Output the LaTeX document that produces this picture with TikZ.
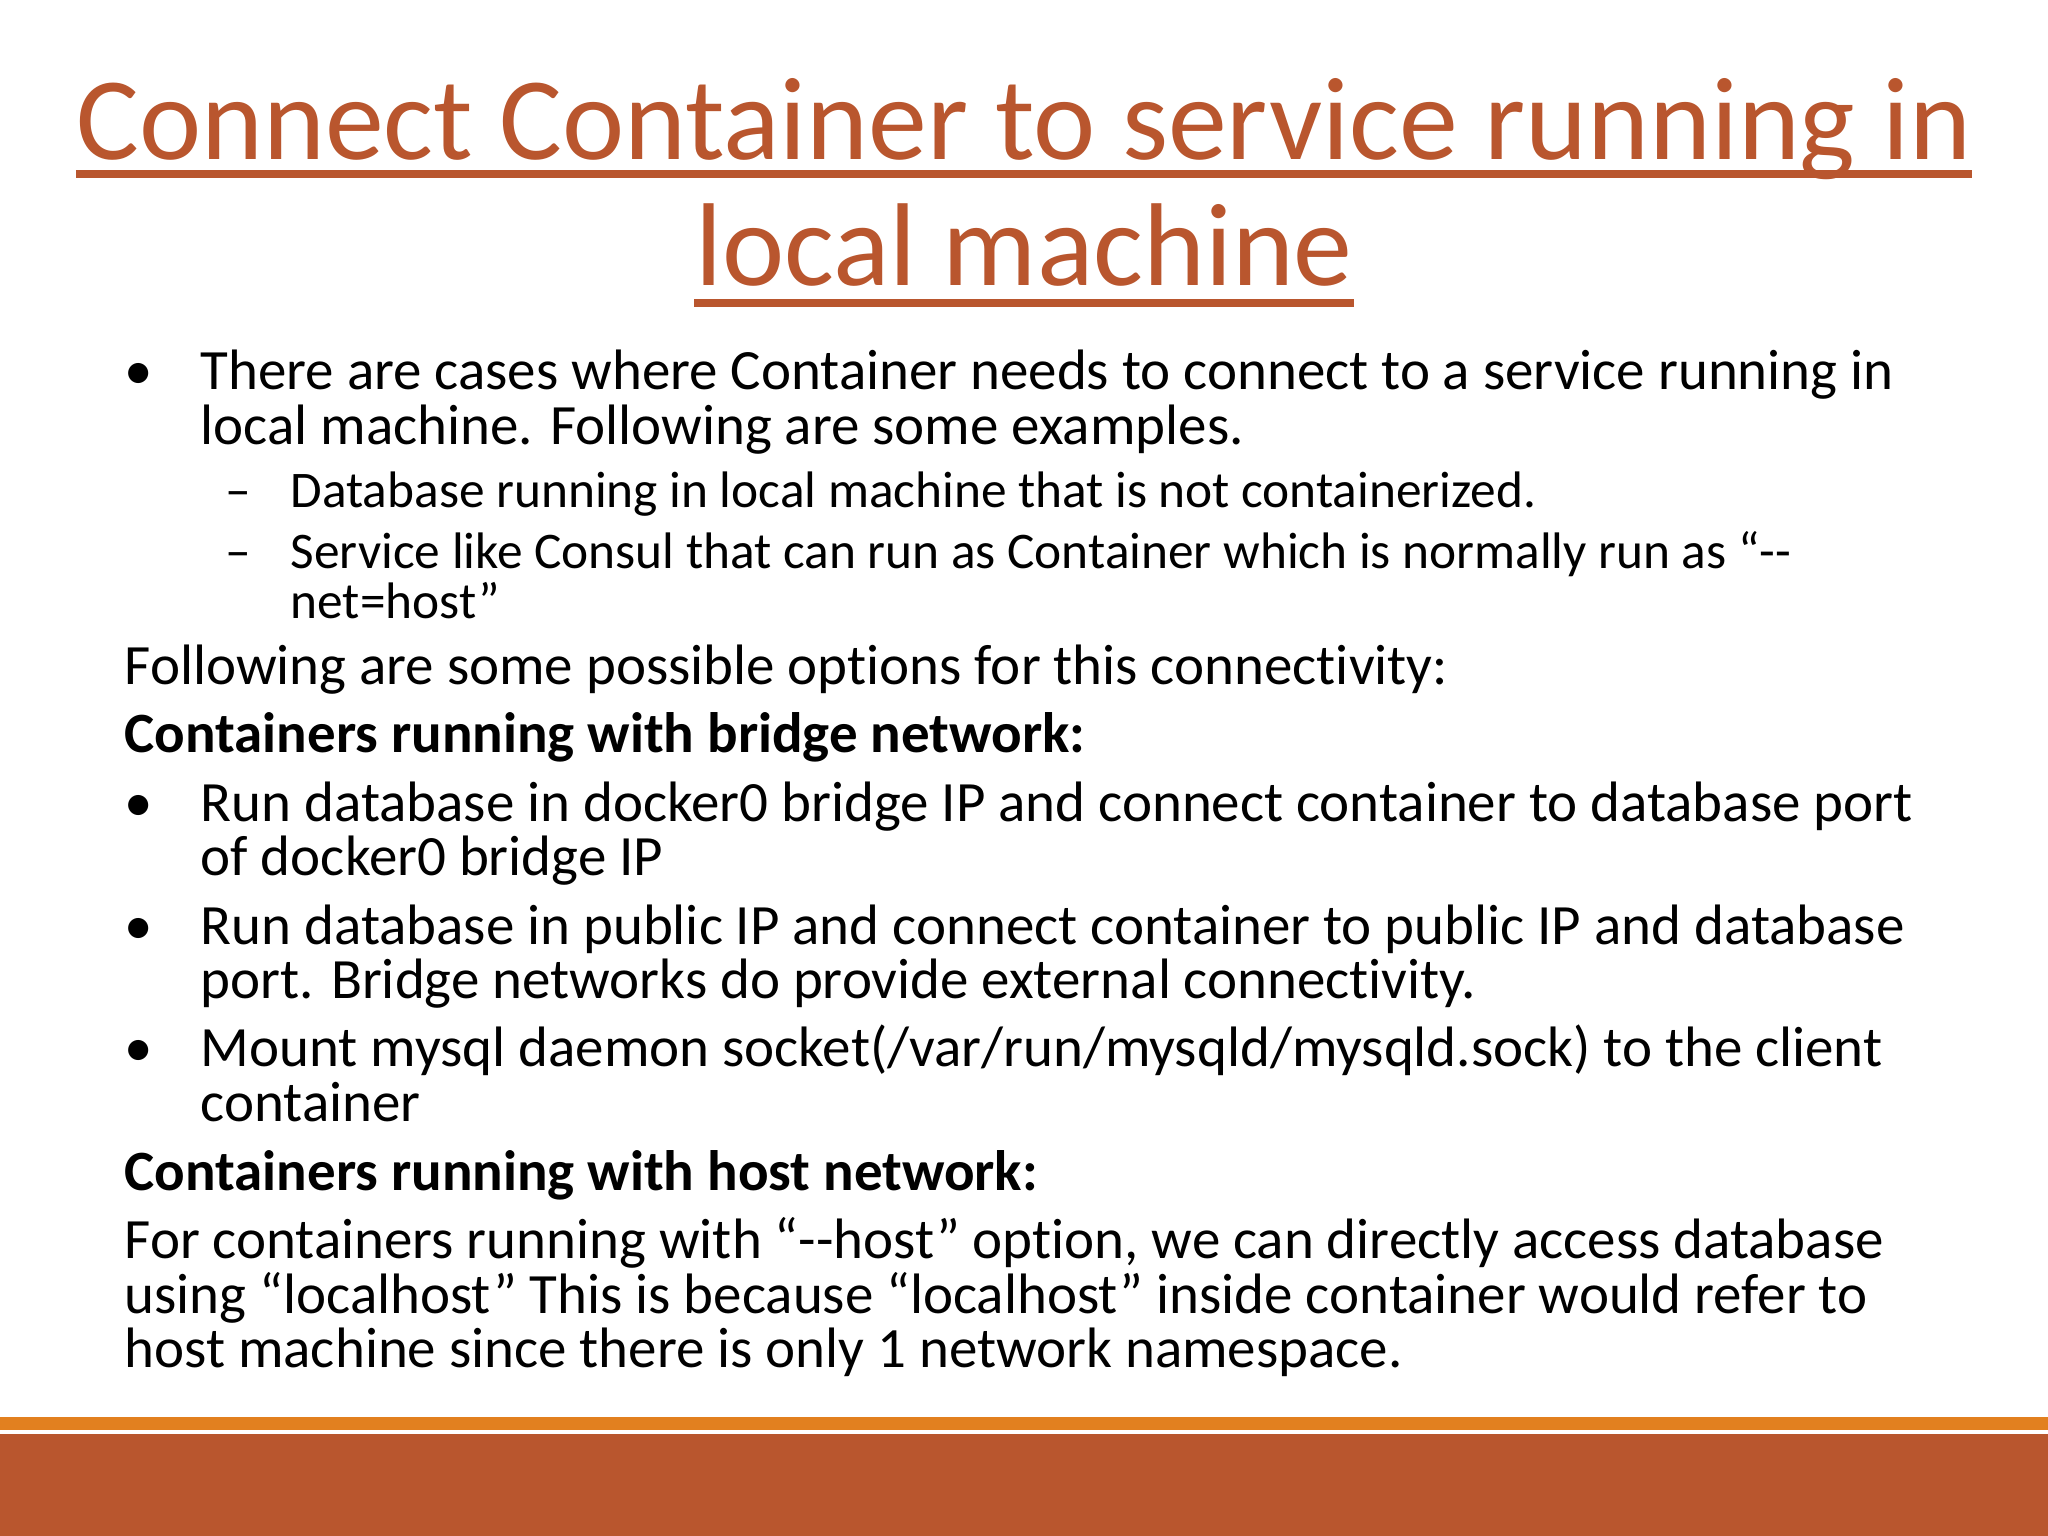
\documentclass[tikz,border=0pt]{standalone}
\usepackage{fontspec}
\setmainfont[Ligatures=NoCommon]{Carlito}
\definecolor{rust}{HTML}{B9562E}
\definecolor{ornge}{HTML}{E2801F}
\begin{document}
\begin{tikzpicture}[x=0.01cm,y=-0.01cm,
  ttl/.style={anchor=base,inner sep=0,text=rust,font=\fontsize{33.5}{40}\selectfont},
  bd/.style={anchor=base west,inner sep=0,font=\fontsize{16.2}{18}\selectfont},
  sb/.style={anchor=base west,inner sep=0,font=\fontsize{14.6}{16}\selectfont}]
\useasboundingbox (0,0) rectangle (2048,1536);
\fill[white] (0,0) rectangle (2048,1536);
\fill[ornge] (0,1417) rectangle (2048,1430);
\fill[rust] (0,1434) rectangle (2048,1536);
\node[ttl] (t1) at (1024,159) {Connect Container to service running in};
\node[ttl] (t2) at (1024,285) {local machine};
\draw[rust,line width=2.2pt] (t1.west|-0,174) -- (t1.east|-0,174);
\draw[rust,line width=2.2pt] (t2.west|-0,303) -- (t2.east|-0,303);
\foreach \y in {389,821,944,1066}{\node[bd] at (124,\y) {•};}
\foreach \y in {507,568}{\node[sb] at (225,\y) {–};}
\node[bd] (l1) at (200,389) {There are cases where Container needs to connect to a service running in};
\node[bd] (l2) at (200,444) {local machine. Following are some examples.};
\node[sb] (l3) at (290,507) {Database running in local machine that is not containerized.};
\node[sb] (l4) at (290,568) {Service like Consul that can run as Container which is normally run as “{-}{-}};
\node[sb] (l5) at (290,618) {net=host”};
\node[bd] (l6) at (124,684) {Following are some possible options for this connectivity:};
\node[bd] (l7) at (124,752) {\bfseries Containers running with bridge network:};
\node[bd] (l8) at (200,821) {Run database in docker0 bridge IP and connect container to database port};
\node[bd] (l9) at (200,875) {of docker0 bridge IP};
\node[bd] (l10) at (200,944) {Run database in public IP and connect container to public IP and database};
\node[bd] (l11) at (200,998) {port. Bridge networks do provide external connectivity.};
\node[bd] (l12) at (200,1066) {Mount mysql daemon socket(/var/run/mysqld/mysqld.sock) to the client};
\node[bd] (l13) at (200,1121) {container};
\node[bd] (l14) at (124,1190) {\bfseries Containers running with host network:};
\node[bd] (l15) at (124,1258) {For containers running with “{-}{-}host” option, we can directly access database};
\node[bd] (l16) at (124,1313) {using “localhost” This is because “localhost” inside container would refer to};
\node[bd] (l17) at (124,1367) {host machine since there is only 1 network namespace.};
\end{tikzpicture}
\end{document}
